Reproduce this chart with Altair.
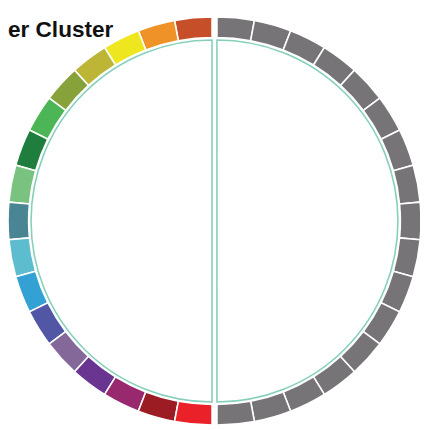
import math
import altair as alt
import pandas as pd

# --- data ---
title_text = ["er Cluster"]
left_colors = [
    "#C64F2A", "#EF9329", "#EEE61F", "#BCB535", "#87A23B", "#4CB656",
    "#1F7E3E", "#7AC27F", "#4A8593", "#5DBCCD", "#34A1D5", "#5156A5",
    "#84689A", "#6A3590", "#98296E", "#9B1C22", "#EB2129",
]
right_colors = ["#767476"] * 17
half_offsets = {"left": -2.5, "right": 2.5}

n = len(left_colors)
step = 180.0 / n
rows = []
for i, c in enumerate(left_colors):
    rows.append({"half": "left", "cx": half_offsets["left"], "cy": 0,
                 "t0": 360 - (i + 1) * step, "t1": 360 - i * step, "color": c})
for i, c in enumerate(right_colors):
    rows.append({"half": "right", "cx": half_offsets["right"], "cy": 0,
                 "t0": i * step, "t1": (i + 1) * step, "color": c})
seg = pd.DataFrame(rows)

outline = pd.DataFrame([
    {"half": "left", "cx": half_offsets["left"], "cy": 0, "t0": 180, "t1": 360},
    {"half": "right", "cx": half_offsets["right"], "cy": 0, "t0": 0, "t1": 180},
])

xs = alt.Scale(domain=[-210.5, 209.5], nice=False, zero=False)
ys = alt.Scale(domain=[-209, 213], nice=False, zero=False)
ts = alt.Scale(domain=[0, 360], range=[0, 2 * math.pi])

ring = alt.Chart(seg).mark_arc(stroke="white", strokeWidth=1.6).encode(
    x=alt.X("cx:Q", scale=xs, axis=None),
    y=alt.Y("cy:Q", scale=ys, axis=None),
    theta=alt.Theta("t0:Q", scale=ts, stack=None),
    theta2="t1:Q",
    radius=alt.value(208),
    radius2=alt.value(187),
    color=alt.Color("color:N", scale=None),
)

edge = alt.Chart(outline).mark_arc(filled=False, stroke="#86D0BB", strokeWidth=1.6).encode(
    x=alt.X("cx:Q", scale=xs, axis=None),
    y=alt.Y("cy:Q", scale=ys, axis=None),
    theta=alt.Theta("t0:Q", scale=ts, stack=None),
    theta2="t1:Q",
    radius=alt.value(184.5),
    radius2=alt.value(0),
)

title = alt.Chart(pd.DataFrame({"label": title_text})).mark_text(
    align="left", baseline="alphabetic", font="Liberation Sans",
    fontWeight="bold", fontSize=23, color="#111111",
).encode(x=alt.value(0), y=alt.value(25), text="label:N")

chart = alt.layer(edge, ring, title).properties(
    width=420, height=422, padding=0, autosize=alt.AutoSizeParams(type="none"),
    background="white",
).configure_view(stroke=None)

chart.save("out.html", embed_options={"renderer": "svg", "actions": False})
